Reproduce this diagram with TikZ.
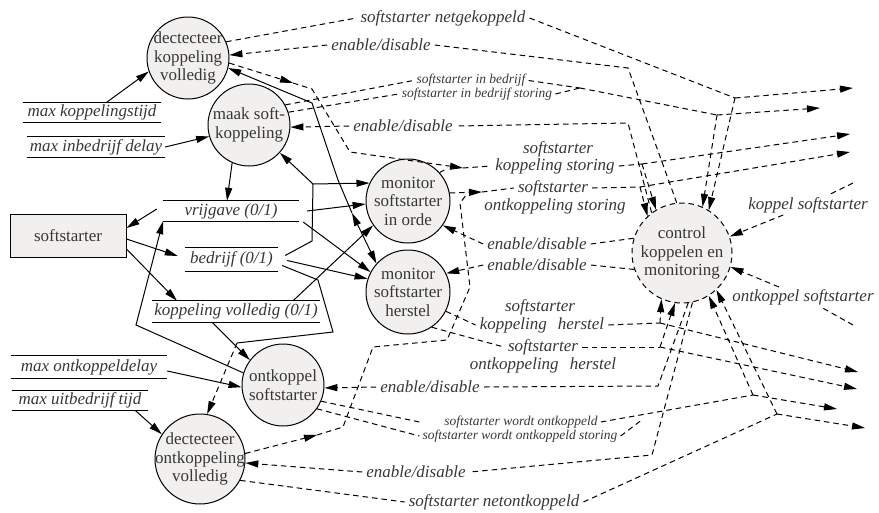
\documentclass[tikz,border=0pt]{standalone}
\usepackage{fontspec}
\setmainfont{Liberation Serif}
\usetikzlibrary{arrows.meta}
\definecolor{procfill}{RGB}{241,240,239}
\definecolor{ink}{RGB}{55,55,55}
\tikzset{tri/.tip={Triangle[length=13pt,width=7pt]}}
\newcommand\storelines[1]{\draw[sline] (#1.north west) -- (#1.north east) (#1.south west) -- (#1.south east);}

\begin{document}
\begin{tikzpicture}[x=1pt,y=-1pt,
  proc/.style={circle,draw,line width=1pt,fill=procfill,inner sep=0pt},
  ptext/.style={align=center,text=ink,font=\fontsize{17}{18.5}\selectfont,inner sep=0pt},
  store/.style={text=ink,font=\fontsize{17}{20}\selectfont\itshape,inner sep=0pt},
  lbl/.style={text=ink,font=\fontsize{17}{20}\selectfont\itshape,inner xsep=4pt,inner ysep=2pt},
  slbl/.style={text=ink,font=\fontsize{13.5}{13}\selectfont\itshape,inner xsep=3pt,inner ysep=0.5pt},
  sline/.style={line width=1pt},
  ctrl/.style={line width=1pt,dash pattern=on 5.5pt off 4pt},
]
\useasboundingbox (0,0) rectangle (879,512);

% ---------- processes ----------
\node[proc,minimum size=82pt] (dkv) at (188,58) {};
\node[ptext] at (dkv) {dectecteer\\koppeling\\volledig};
\node[proc,minimum size=82pt] (mks) at (249,125) {};
\node[ptext] at (mks) {maak soft-\\koppeling};
\node[proc,minimum size=84pt] (mio) at (408,201) {};
\node[ptext] at (mio) {monitor\\softstarter\\in orde};
\node[proc,minimum size=84pt] (mih) at (408,292) {};
\node[ptext] at (mih) {monitor\\softstarter\\herstel};
\node[proc,minimum size=82pt] (okp) at (283,385) {};
\node[ptext] at (okp) {ontkoppel\\softstarter};
\node[proc,minimum size=90pt] (dok) at (200,459) {};
\node[ptext] at (dok) {dectecteer\\ontkoppeling\\volledig};
\node[proc,ctrl,minimum size=100pt] (ctl) at (682,253) {};
\node[ptext] at (ctl) {control\\koppelen en\\monitoring};

% ---------- terminator ----------
\node[draw,line width=1pt,fill=procfill,minimum width=116pt,minimum height=43pt,
      text=ink,font=\fontsize{17}{20}\selectfont] (ss) at (68,235.5) {softstarter};

% ---------- data stores ----------
\node[store,minimum width=138pt,minimum height=19pt] (mk) at (92,112.5) {max koppelingstijd};
\node[store,minimum width=138pt,minimum height=20pt] (mi) at (96,147) {max inbedrijf delay};
\node[store,minimum width=136pt,minimum height=20pt] (vr) at (231,211) {vrijgave (0/1)};
\node[store,minimum width=93pt,minimum height=23pt] (bd) at (231.5,259.5) {bedrijf (0/1)};
\node[store,minimum width=168pt,minimum height=21pt] (kv) at (236,311.5) {koppeling volledig (0/1)};
\node[store,minimum width=156pt,minimum height=22pt] (mo) at (89,367) {max ontkoppeldelay};
\node[store,minimum width=136pt,minimum height=19pt] (mu) at (80,400.5) {max uitbedrijf tijd};
\storelines{mk}\storelines{mi}\storelines{vr}\storelines{bd}
\storelines{kv}\storelines{mo}\storelines{mu}

% ---------- flow labels ----------
\node[lbl] (ng) at (443,18) {softstarter netgekoppeld};
\node[lbl] (en1) at (381,45) {enable/disable};
\node[slbl] (ib1) at (471,80.5) {softstarter in bedrijf};
\node[slbl] (ib2) at (477,94) {softstarter in bedrijf storing};
\node[lbl] (en2) at (403,126) {enable/disable};
\node[lbl] (ks1) at (558,149) {softstarter};
\node[lbl] (ks2) at (555,166) {koppeling storing};
\node[lbl] (os1) at (553,188) {softstarter};
\node[lbl] (os2) at (555,206) {ontkoppeling storing};
\node[lbl] (en3) at (537,244) {enable/disable};
\node[lbl] (en4) at (537,265) {enable/disable};
\node[lbl] (kss) at (808,205) {koppel softstarter};
\node[lbl] (oks) at (803,297) {ontkoppel softstarter};
\node[lbl] (kh1) at (540,307) {softstarter};
\node[lbl] (kh2) at (542,325) {koppeling\hspace{0.65em}herstel};
\node[lbl] (oh1) at (543,347) {softstarter};
\node[lbl] (oh2) at (543,365) {ontkoppeling\hspace{0.65em}herstel};
\node[lbl] (en5) at (430,387) {enable/disable};
\node[slbl] (wo1) at (521,422) {softstarter wordt ontkoppeld};
\node[slbl] (wo2) at (520,436) {softstarter wordt ontkoppeld storing};
\node[lbl] (en6) at (416,472) {enable/disable};
\node[lbl] (nt) at (494,502) {softstarter netontkoppeld};

% ---------- junctions and open ends ----------
\coordinate (o1) at (853,88);   \coordinate (o2) at (820,108);
\coordinate (o3) at (850,134);  \coordinate (o4) at (850,152);
\coordinate (o5) at (858,372);  \coordinate (o6) at (857,389);
\coordinate (o7) at (837,409);  \coordinate (o8) at (865,428);
\coordinate (i1) at (853,183);  \coordinate (i2) at (853,325);
\coordinate (j1) at (735,98);   \coordinate (j2) at (717,115);
\coordinate (jb) at (580,88);   \coordinate (jks) at (642,164);
\coordinate (jos) at (640,187); \coordinate (k1) at (660,323);
\coordinate (k2) at (660,347);  \coordinate (j3) at (753,395);
\coordinate (j4) at (777,414);
\coordinate (e1b) at (628,68);  \coordinate (e2b) at (628,123);
\coordinate (e5b) at (658,386); \coordinate (e6b) at (652,455);
\coordinate (ka) at (293,83);   \coordinate (kb) at (463,168);
\coordinate (kbb) at (448,168); \coordinate (oa) at (317,435);
\coordinate (ob) at (482,192);
\coordinate (cvb) at (136,325); \coordinate (bj) at (313,184);
\coordinate (bk) at (312,241);  \coordinate (bz) at (237,343);
\coordinate (vt) at (352,213);

% ---------- data flows (solid) ----------
\draw[sline,-tri] ([xshift=14pt]mk.north) -- (dkv.199);
\draw[sline,-tri] (mi.east) -- (mks.196);
\draw[sline,-tri] (mks.246) -- ([xshift=-4pt]vr.north);
\draw[sline,-tri] ([shift={(-6pt,2pt)}]vr.west) -- ([yshift=7.5pt]ss.east);
\draw[sline,-tri] ([yshift=-3.5pt]ss.east) -- ([shift={(-7pt,3.5pt)}]bd.west);
\draw[sline,-tri] ([yshift=-13.5pt]ss.east) -- ([xshift=-59pt]kv.north);
\draw[sline,-tri] (okp.163) -- (cvb) -- ([xshift=-68pt]vr.south);
\draw[sline,-tri] ([xshift=-24pt]kv.south) -- (okp.143);
\draw[sline,-tri] ([xshift=57pt]kv.north) -- (mio.215);
\draw[sline] ([shift={(7pt,4pt)}]bd.east) -- (bk) -- (bj);
\draw[sline,-tri] (bj) -- (mio.155);
\draw[sline,-tri] (bj) -- (mks.318);
\draw[sline,-tri] ([xshift=8pt]vr.east) -- (mio.184);
\draw[sline,-tri] ([shift={(4pt,-11pt)}]vr.east) -- (mih.152);
\draw[sline,-tri] ([shift={(9pt,-1pt)}]bd.east) -- (mih.162);
\draw[sline] ([shift={(4pt,-6pt)}]bd.east) -- (318,280) -- (333,332) -- (bz);
\draw[ctrl,-tri] (bz) -- (dok.81);
\draw[sline,-tri] (vt) -- (338,180) -- (312,103) -- (dkv.346);
\draw[sline,tri-tri] (vt) -- (mih.138);
\draw[sline,-tri] ([yshift=-4pt]mo.east) -- (okp.183);
\draw[sline,-tri] ([xshift=55pt]mu.south) -- (dok.147);

% ---------- control flows (dashed) ----------
% netgekoppeld
\draw[ctrl] (dkv.23) -- (ng.west);
\draw[ctrl] (ng.east) -- (j1);
\draw[ctrl,-tri] (j1) -- (o1);
\draw[ctrl,-tri] (j1) -- (ctl.58);
% enable/disable koppeling detectie
\draw[ctrl] (ctl.96) -- (e1b) -- (en1.east);
\draw[ctrl,-tri] (en1.west) -- (dkv.4);
% in bedrijf
\draw[ctrl] (mks.29) -- (ib1.west);
\draw[ctrl] (mks.18) -- (ib2.west);
\draw[ctrl] (ib1.east) -- (jb) (ib2.east) -- (jb);
\draw[ctrl] (jb) -- (j2);
\draw[ctrl,-tri] (j2) -- (o2);
\draw[ctrl,-tri] (j2) -- (ctl.66);
% enable/disable soft-koppeling
\draw[ctrl] (ctl.127) -- (e2b) -- (en2.east);
\draw[ctrl,-tri] (en2.west) -- (mks.357);
% koppeling storing
\draw[ctrl,-tri] (dkv.353) -- (ka);
\draw[ctrl,-tri] (ka) -- (312,89) -- (350,152) -- (kb);
\draw[ctrl] (mio.42) -- (kbb);
\draw[ctrl] (kb) -- (ks2.west);
\draw[ctrl] (ks2.east) -- (jks);
\draw[ctrl,-tri] (jks) -- (o3);
\draw[ctrl,-tri] (jks) -- (ctl.121);
% ontkoppeling storing
\draw[ctrl,-tri] (dok.7) -- (oa);
\draw[ctrl] (oa) -- (343,427) -- (373,347) -- (447,340) -- (470,287) -- (460,203) -- (467,194);
\draw[ctrl,-tri] (mio.11) -- (ob);
\draw[ctrl] (ob) -- (os1.west);
\draw[ctrl] (os1.east) -- (jos);
\draw[ctrl,-tri] (jos) -- (o4);
\draw[ctrl,-tri] (jos) -- (ctl.133);
% enable/disable monitors
\draw[ctrl] (ctl.163) -- (en3.east);
\draw[ctrl,-tri] (en3.west) -- (mio.325);
\draw[ctrl] (ctl.199) -- (en4.east);
\draw[ctrl,-tri] (en4.west) -- (mih.26);
% external commands
\draw[ctrl] (i1) -- (kss);
\draw[ctrl,-tri] (kss) -- (ctl.19);
\draw[ctrl] (i2) -- (oks);
\draw[ctrl,-tri] (oks) -- (ctl.344);
% koppeling herstel
\draw[ctrl] (mih.333) -- (kh2.west);
\draw[ctrl] (kh2.east) -- (k1);
\draw[ctrl,-tri] (k1) -- (ctl.246);
\draw[ctrl,-tri] (k1) -- (o5);
% ontkoppeling herstel
\draw[ctrl] (mih.304) -- (oh1.west);
\draw[ctrl] (oh1.east) -- (k2);
\draw[ctrl,-tri] (k2) -- (ctl.262);
\draw[ctrl,-tri] (k2) -- (o6);
% enable/disable ontkoppelen
\draw[ctrl] (ctl.277) -- (e5b) -- (en5.east);
\draw[ctrl,-tri] (en5.west) -- (okp.356);
\draw[ctrl] (ctl.282) -- (e6b) -- (en6.east);
\draw[ctrl,-tri] (en6.west) -- (dok.355);
% wordt ontkoppeld
\draw[ctrl] (okp.337) -- (wo2.west |- wo1.west);
\draw[ctrl] (okp.325) -- (wo2.west);
\draw[ctrl] (wo1.east) -- (j3);
\draw[ctrl] (wo2.east) -- (643,419);
\draw[ctrl,-tri] (j3) -- (o7);
\draw[ctrl,-tri] (j3) -- (ctl.302);
% netontkoppeld
\draw[ctrl] (dok.332) -- (nt.west);
\draw[ctrl] (nt.east) -- (j4);
\draw[ctrl,-tri] (j4) -- (o8);
\draw[ctrl,-tri] (j4) -- (ctl.313);
\end{tikzpicture}
\end{document}
